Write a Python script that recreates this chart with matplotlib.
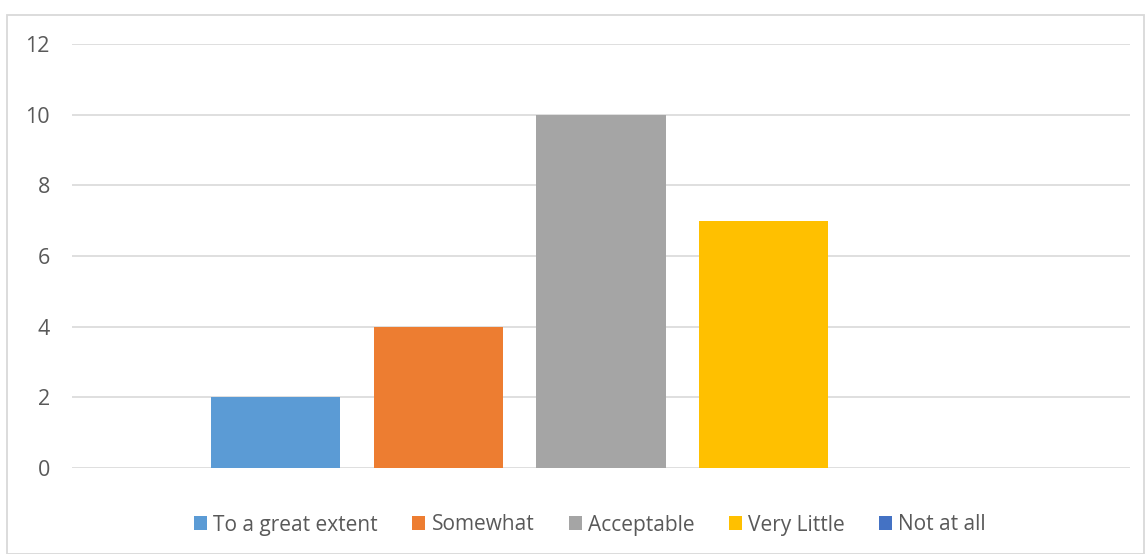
import matplotlib
matplotlib.use("Agg")
import matplotlib.pyplot as plt
from matplotlib.patches import Rectangle

# Survey responses (single category, one bar per response level)
series_names = ["To a great extent", "Somewhat", "Acceptable", "Very Little", "Not at all"]
series_values = [2, 4, 10, 7, 0]
series_colors = ["#5B9BD5", "#ED7D31", "#A5A5A5", "#FFC000", "#4472C4"]
y_ticks = [0, 2, 4, 6, 8, 10, 12]

plt.rcParams["font.family"] = ["Open Sans", "DejaVu Sans"]
TEXT = "#595959"
GRID = "#D9D9D9"

W, H = 1145, 554
fig = plt.figure(figsize=(W / 100, H / 100), dpi=100)

# plot area in pixel terms
left, right, top, bottom = 72, 1130, 44, 468
ax = fig.add_axes([left / W, 1 - bottom / H, (right - left) / W, (bottom - top) / H])

ax.set_xlim(0, 1)
ax.set_ylim(0, 12)

slot = 0.154
bar_w = 0.122
n = len(series_values)
for i, (name, val, col) in enumerate(zip(series_names, series_values, series_colors)):
    x = 0.5 + (i - (n - 1) / 2) * slot
    ax.bar(x, val, width=bar_w, color=col, label=name, zorder=3, linewidth=0)

ax.set_yticks(y_ticks)
ax.set_yticklabels([str(t) for t in y_ticks], color=TEXT, fontsize=15.5)
ax.set_xticks([])
ax.tick_params(axis="y", length=0, pad=16)
ax.yaxis.grid(True, color=GRID, linewidth=1.2, zorder=0)
ax.set_axisbelow(True)
for s in ax.spines.values():
    s.set_visible(False)

leg = fig.legend(
    loc="center",
    bbox_to_anchor=(590 / W, 1 - 525 / H),
    ncol=n,
    frameon=False,
    fontsize=15,
    handlelength=0.62,
    handleheight=0.62,
    handletextpad=0.3,
    columnspacing=1.65,
    labelcolor=TEXT,
)

# chart border
fig.patches.append(
    Rectangle((7 / W, 0.5 / H), (1143.5 - 7) / W, (H - 15 - 0.5) / H,
              transform=fig.transFigure, fill=False, edgecolor=GRID, linewidth=1.3)
)

fig.savefig("out.png", dpi=100, facecolor="white")
